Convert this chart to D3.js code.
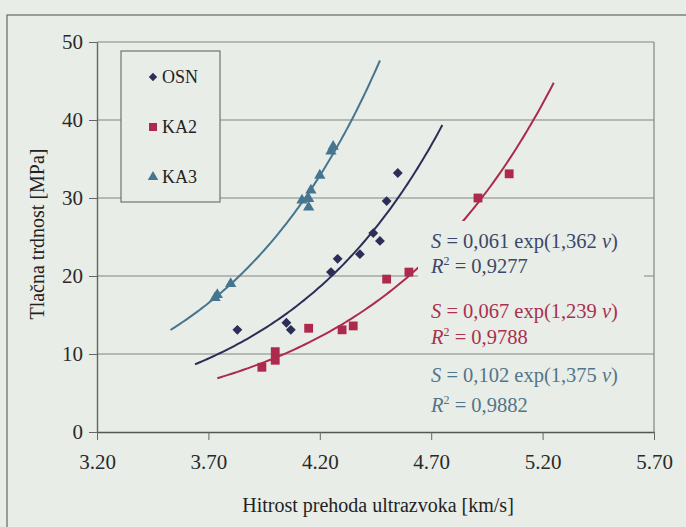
<!DOCTYPE html>
<html>
<head>
<meta charset="utf-8">
<script src="https://cdn.jsdelivr.net/npm/d3@7"></script>
<style>
  body { margin: 0; background: #e8ede7; }
  svg { display: block; font-family: "Liberation Serif", "Times New Roman", serif; }
</style>
</head>
<body>
<svg id="chart" width="686" height="527"></svg>
<script>
var osnV = [3.83, 4.05, 4.07, 4.25, 4.28, 4.38, 4.44, 4.47, 4.50, 4.55];
var osnS = [13.1, 14.0, 13.1, 20.5, 22.2, 22.8, 25.5, 24.5, 29.6, 33.2];

var ka2V = [3.94, 4.00, 4.00, 4.15, 4.30, 4.35, 4.50, 4.60, 4.91, 5.05];
var ka2S = [8.3, 10.3, 9.2, 13.3, 13.1, 13.6, 19.6, 20.5, 30.0, 33.1];

var ka3V = [3.73, 3.74, 3.80, 4.12, 4.15, 4.15, 4.16, 4.20, 4.25, 4.26];
var ka3S = [17.2, 17.6, 19.0, 29.7, 29.9, 28.8, 31.0, 32.9, 36.0, 36.6];

// trend lines S = a exp(b v)
var seriesNames = ["OSN", "KA2", "KA3"];
var fitA = [0.061, 0.067, 0.102];
var fitB = [1.362, 1.239, 1.375];
var fitFrom = [3.64, 3.74, 3.53];
var fitTo = [4.75, 5.25, 4.47];
var fitLabel = ["S = 0,061 exp(1,362 v)", "S = 0,067 exp(1,239 v)", "S = 0,102 exp(1,375 v)"];
var r2Label = ["0,9277", "0,9788", "0,9882"];

var xTicks = [3.20, 3.70, 4.20, 4.70, 5.20, 5.70];
var yTicks = [0, 10, 20, 30, 40, 50];

var colors = ["#2c2e58", "#ae2a4d", "#46768f"];
var textColors = ["#3d4768", "#a8314f", "#52758b"];

var svg = d3.select("#chart");
var x = d3.scaleLinear().domain([3.2, 5.7]).range([97, 654]);
var y = d3.scaleLinear().domain([0, 50]).range([432, 42]);

// outer chart frame
svg.append("rect")
    .attr("x", 7).attr("y", 15)
    .attr("width", 720).attr("height", 560)
    .attr("fill", "none")
    .attr("stroke", "#666")
    .attr("stroke-width", 1.2);

// horizontal grid lines
svg.append("g")
    .selectAll("line")
    .data(yTicks.slice(1))
    .join("line")
    .attr("x1", x(3.2)).attr("x2", x(5.7))
    .attr("y1", d => y(d)).attr("y2", d => y(d))
    .attr("stroke", "#808580")
    .attr("stroke-width", 1.2);

// plot border (right)
svg.append("line")
    .attr("x1", x(5.7)).attr("x2", x(5.7))
    .attr("y1", y(50)).attr("y2", y(0))
    .attr("stroke", "#808580").attr("stroke-width", 1.2);

// trend curves
var line = d3.line().x(d => x(d[0])).y(d => y(d[1]));
for (var i = 0; i < 3; i++) {
    var pts = d3.range(0, 101).map(function(k) {
        var v = fitFrom[i] + (fitTo[i] - fitFrom[i]) * k / 100;
        return [v, fitA[i] * Math.exp(fitB[i] * v)];
    });
    svg.append("path")
        .attr("d", line(pts))
        .attr("fill", "none")
        .attr("stroke", colors[i])
        .attr("stroke-width", 2);
}

// markers
var symbols = [
    d3.symbol().type(d3.symbolDiamond2).size(62),
    d3.symbol().type(d3.symbolSquare).size(78),
    d3.symbol().type(d3.symbolTriangle).size(55)
];
var allV = [osnV, ka2V, ka3V];
var allS = [osnS, ka2S, ka3S];
for (var j = 0; j < 3; j++) {
    svg.append("g")
        .selectAll("path")
        .data(d3.range(allV[j].length))
        .join("path")
        .attr("d", symbols[j])
        .attr("transform", d => `translate(${x(allV[j][d])},${y(allS[j][d])})`)
        .attr("fill", colors[j]);
}

// box behind the first two equations (hides the curve and grid under it)
svg.append("rect")
    .attr("x", 418).attr("y", 221)
    .attr("width", 226).attr("height", 128)
    .attr("fill", "#e8ede7");

// equations
var eqY = [248, 318, 382];
var r2Y = [273, 344, 412];
for (var e = 0; e < 3; e++) {
    var parts = fitLabel[e].split("v");
    var t = svg.append("text")
        .attr("x", 431).attr("y", eqY[e])
        .attr("font-size", 20.5)
        .attr("fill", textColors[e]);
    t.append("tspan").attr("font-style", "italic").text("S");
    t.append("tspan").text(parts[0].slice(1));
    t.append("tspan").attr("font-style", "italic").text("v");
    t.append("tspan").text(parts[1]);

    var r = svg.append("text")
        .attr("x", 431).attr("y", r2Y[e])
        .attr("font-size", 20.5)
        .attr("fill", textColors[e]);
    r.append("tspan").attr("font-style", "italic").text("R");
    r.append("tspan").attr("font-size", 12).attr("dy", -8).text("2");
    r.append("tspan").attr("dy", 8).text(" = " + r2Label[e]);
}

// legend
var lg = svg.append("g");
lg.append("rect")
    .attr("x", 121).attr("y", 51)
    .attr("width", 99).attr("height", 151)
    .attr("fill", "#e8ede7")
    .attr("stroke", "#707570")
    .attr("stroke-width", 1.2);
var legY = [77, 127, 177];
var legSymbols = [
    d3.symbol().type(d3.symbolDiamond2).size(44),
    d3.symbol().type(d3.symbolSquare).size(64),
    d3.symbol().type(d3.symbolTriangle).size(48)
];
seriesNames.forEach(function(name, k) {
    lg.append("path")
        .attr("d", legSymbols[k])
        .attr("transform", `translate(153,${legY[k]})`)
        .attr("fill", colors[k]);
    lg.append("text")
        .attr("x", 162).attr("y", legY[k] + 6)
        .attr("font-size", 18)
        .attr("fill", "#222")
        .text(name);
});

// axes
var xAxis = svg.append("g")
    .attr("transform", `translate(0,${y(0)})`)
    .call(d3.axisBottom(x).tickValues(xTicks).tickFormat(d3.format(".2f")).tickSize(8).tickSizeOuter(0).tickPadding(14));
xAxis.select(".domain").attr("stroke", "#555").attr("stroke-width", 1.6);
xAxis.selectAll(".tick line").attr("stroke", "#666");
xAxis.selectAll("text").attr("font-size", 21).attr("fill", "#2a2a2a").attr("font-family", "Liberation Serif");

var yAxis = svg.append("g")
    .attr("transform", `translate(${x(3.2)},0)`)
    .call(d3.axisLeft(y).tickValues(yTicks).tickSize(8).tickSizeOuter(0).tickPadding(6));
yAxis.select(".domain").attr("stroke", "#666").attr("stroke-width", 1.4);
yAxis.selectAll(".tick line").attr("stroke", "#666");
yAxis.selectAll("text").attr("font-size", 21).attr("fill", "#2a2a2a").attr("font-family", "Liberation Serif");

// axis titles
svg.append("text")
    .attr("x", 378).attr("y", 512)
    .attr("text-anchor", "middle")
    .attr("font-size", 20)
    .attr("fill", "#222")
    .text("Hitrost prehoda ultrazvoka [km/s]");

svg.append("text")
    .attr("transform", "translate(44,234) rotate(-90)")
    .attr("text-anchor", "middle")
    .attr("font-size", 20)
    .attr("fill", "#222")
    .text("Tlačna trdnost [MPa]");
</script>
</body>
</html>
